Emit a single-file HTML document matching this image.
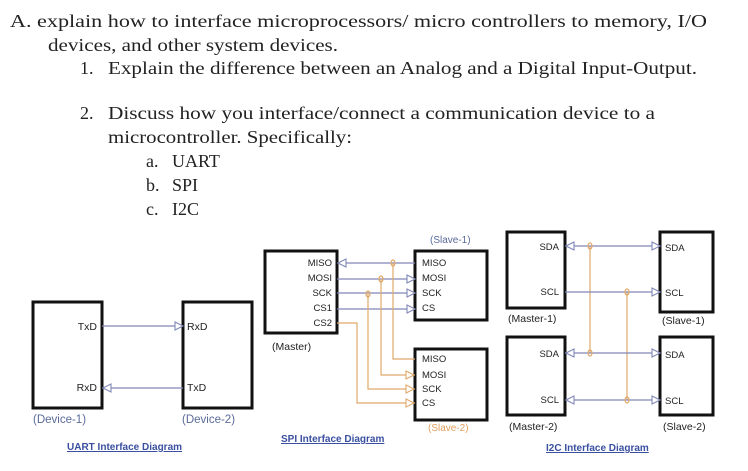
<!DOCTYPE html>
<html><head><meta charset="utf-8"><style>
html,body{margin:0;padding:0;background:#fff;width:748px;height:471px;overflow:hidden}
svg{display:block}
.t{font-family:"Liberation Serif",serif;font-size:18px;fill:#222}
.s{font-family:"Liberation Sans",sans-serif;font-size:10.5px;fill:#222}
.l{font-family:"Liberation Sans",sans-serif;font-size:11.5px;fill:#5a6a9a}
.o{font-family:"Liberation Sans",sans-serif;font-size:10px;fill:#e0a060}
.u{font-family:"Liberation Sans",sans-serif;font-size:10px;font-weight:bold;fill:#3a4fa0;text-decoration:underline}
.b{fill:none;stroke:#111;stroke-width:3}
.bl{stroke:#8088b8;stroke-width:1.2;fill:none}
.or{stroke:#e0a96a;stroke-width:1.2;fill:none}
.ah{fill:#fff;stroke:#8088b8;stroke-width:1.1}
.aho{fill:#fff;stroke:#e0a96a;stroke-width:1.1}
</style></head><body>
<svg width="748" height="471" viewBox="0 0 748 471">
<text class="t" x="10" y="27" textLength="697" lengthAdjust="spacingAndGlyphs">A.  explain how to interface microprocessors/ micro controllers to memory, I/O</text>
<text class="t" x="48" y="51" textLength="290" lengthAdjust="spacingAndGlyphs">devices, and other system devices.</text>
<text class="t" x="80" y="74">1.</text>
<text class="t" x="108" y="74" textLength="589" lengthAdjust="spacingAndGlyphs">Explain the difference between an Analog and a Digital Input-Output.</text>
<text class="t" x="80" y="119">2.</text>
<text class="t" x="108" y="119" textLength="547" lengthAdjust="spacingAndGlyphs">Discuss how you interface/connect a communication device to a</text>
<text class="t" x="108" y="143" textLength="244" lengthAdjust="spacingAndGlyphs">microcontroller. Specifically:</text>
<text class="t" x="146" y="167">a.</text><text class="t" x="172" y="167">UART</text>
<text class="t" x="146" y="191">b.</text><text class="t" x="172" y="191">SPI</text>
<text class="t" x="146" y="215">c.</text><text class="t" x="172" y="215">I2C</text>

<!-- UART -->
<rect class="b" x="33" y="302" width="69" height="106"/>
<rect class="b" x="183" y="302" width="69" height="106"/>
<text class="s" x="97" y="330" text-anchor="end">TxD</text>
<text class="s" x="97" y="391" text-anchor="end">RxD</text>
<text class="s" x="187" y="330">RxD</text>
<text class="s" x="187" y="391">TxD</text>
<line class="bl" x1="102" y1="326" x2="183" y2="326"/>
<polygon class="ah" points="175,322 183,326 175,330"/>
<line class="bl" x1="102" y1="388" x2="183" y2="388"/>
<polygon class="ah" points="111,384 103,388 111,392"/>
<text class="l" x="33" y="423">(Device-1)</text>
<text class="l" x="182" y="423">(Device-2)</text>
<text class="u" x="67" y="450">UART Interface Diagram</text>

<!-- SPI -->
<rect class="b" x="265" y="251" width="72" height="82"/>
<rect class="b" x="415" y="251" width="72" height="69"/>
<rect class="b" x="415" y="349" width="72" height="71"/>
<g class="s" text-anchor="end" style="font-size:9.5px">
<text x="332" y="266">MISO</text><text x="332" y="281">MOSI</text><text x="332" y="296">SCK</text><text x="332" y="311">CS1</text><text x="332" y="326">CS2</text></g>
<g class="s" style="font-size:9.5px">
<text x="422" y="266">MISO</text><text x="422" y="281">MOSI</text><text x="422" y="296">SCK</text><text x="422" y="311">CS</text>
<text x="422" y="362">MISO</text><text x="422" y="378">MOSI</text><text x="422" y="392">SCK</text><text x="422" y="406">CS</text></g>
<line class="bl" x1="337" y1="263" x2="415" y2="263"/><polygon class="ah" points="346,259 338,263 346,267"/>
<line class="bl" x1="337" y1="279" x2="415" y2="279"/><polygon class="ah" points="407,275 415,279 407,283"/>
<line class="bl" x1="337" y1="293" x2="415" y2="293"/><polygon class="ah" points="407,289 415,293 407,297"/>
<line class="bl" x1="337" y1="309" x2="415" y2="309"/><polygon class="ah" points="407,305 415,309 407,313"/>
<polyline class="or" points="393,263 393,359 415,359"/>
<polyline class="or" points="381,279 381,375 415,375"/>
<polyline class="or" points="368,293 368,389 415,389"/>
<polyline class="or" points="337,323 357,323 357,403 415,403"/>
<polygon class="aho" points="406,371 414,375 406,379"/>
<polygon class="aho" points="406,385 414,389 406,393"/>
<polygon class="aho" points="406,399 414,403 406,407"/>
<ellipse class="or" cx="393" cy="263" rx="2" ry="3"/>
<ellipse class="or" cx="381" cy="279" rx="2" ry="3"/>
<ellipse class="or" cx="368" cy="294" rx="2" ry="3"/>
<text class="l" x="430" y="243" style="font-size:10px">(Slave-1)</text>
<text class="s" x="272" y="350">(Master)</text>
<text class="o" x="428" y="431">(Slave-2)</text>
<text class="u" x="281" y="442">SPI Interface Diagram</text>

<!-- I2C -->
<rect class="b" x="507" y="232" width="58" height="76"/>
<rect class="b" x="660" y="232" width="53" height="80"/>
<rect class="b" x="507" y="337" width="58" height="78"/>
<rect class="b" x="660" y="337" width="53" height="78"/>
<g class="s" text-anchor="end" style="font-size:9.5px">
<text x="559" y="250">SDA</text><text x="559" y="295">SCL</text>
<text x="559" y="357">SDA</text><text x="559" y="403">SCL</text></g>
<g class="s" style="font-size:9.5px">
<text x="665" y="251">SDA</text><text x="665" y="296">SCL</text>
<text x="665" y="358">SDA</text><text x="665" y="404">SCL</text></g>
<polyline class="or" points="590,246 590,353"/>
<polyline class="or" points="627,292 627,400"/>
<line class="bl" x1="565" y1="246" x2="660" y2="246"/>
<line class="bl" x1="565" y1="292" x2="660" y2="292"/>
<line class="bl" x1="565" y1="353" x2="660" y2="353"/>
<line class="bl" x1="565" y1="400" x2="660" y2="400"/>
<polygon class="ah" points="574,242 566,246 574,250"/><polygon class="ah" points="652,242 660,246 652,250"/>
<polygon class="ah" points="652,288 660,292 652,296"/>
<polygon class="ah" points="574,349 566,353 574,357"/><polygon class="ah" points="652,349 660,353 652,357"/>
<polygon class="ah" points="574,396 566,400 574,404"/><polygon class="ah" points="652,396 660,400 652,404"/>
<ellipse class="or" cx="590" cy="246" rx="2" ry="3"/><ellipse class="or" cx="590" cy="353" rx="2" ry="3"/>
<ellipse class="or" cx="627" cy="292" rx="2" ry="3"/><ellipse class="or" cx="627" cy="400" rx="2" ry="3"/>
<text class="s" x="508" y="322">(Master-1)</text>
<text class="s" x="662" y="324">(Slave-1)</text>
<text class="s" x="509" y="430">(Master-2)</text>
<text class="s" x="663" y="430">(Slave-2)</text>
<text class="u" x="546" y="451">I2C Interface Diagram</text>
</svg>
</body></html>
